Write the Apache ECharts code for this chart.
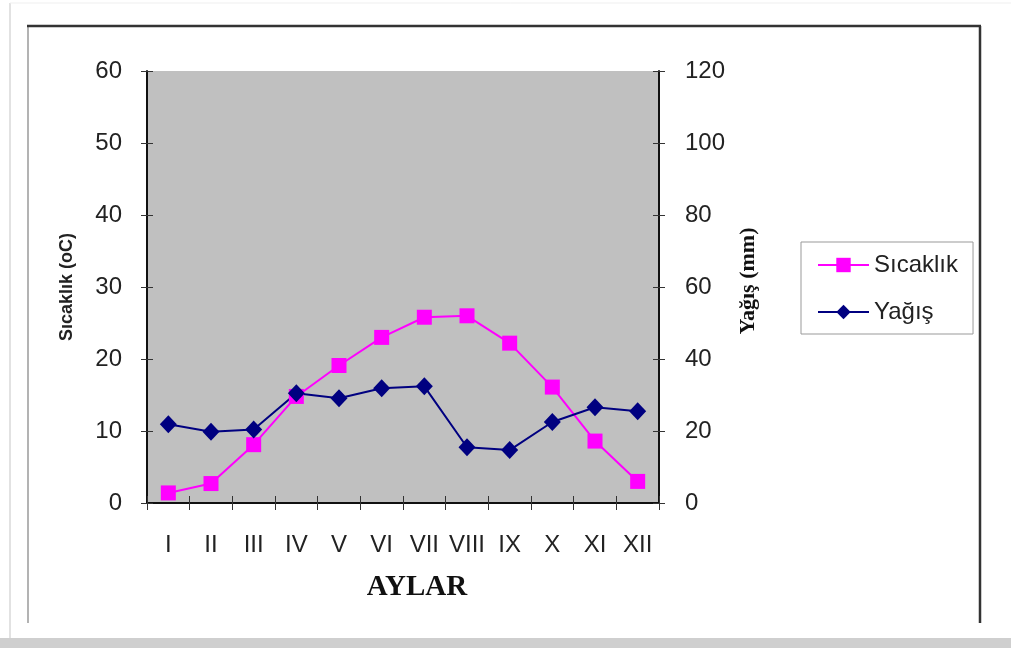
<!DOCTYPE html>
<html>
<head>
<meta charset="utf-8">
<script src="https://cdn.jsdelivr.net/npm/echarts@6/dist/echarts.min.js"></script>
<style>html,body{margin:0;padding:0;background:#fff;}#c{width:1011px;height:648px;}</style>
</head>
<body>
<div id="c"></div>
<script>
var months = ['I','II','III','IV','V','VI','VII','VIII','IX','X','XI','XII'];
var sicaklik = [1.4, 2.7, 8.1, 14.8, 19.1, 23.0, 25.8, 26.0, 22.2, 16.1, 8.6, 3.0];
var yagis = [21.9, 19.8, 20.4, 30.5, 29.1, 31.9, 32.4, 15.5, 14.7, 22.5, 26.6, 25.5];
var leftTicks = [0, 60, 10];
var rightTicks = [0, 120, 20];

var chart = echarts.init(document.getElementById('c'));
var labelFont = {color:'#222', fontSize:24, fontFamily:'Arial, "Liberation Sans", sans-serif'};
chart.setOption({
  backgroundColor:'#fff',
  animation:false,
  grid:{left:147, right:352, top:71, bottom:145, show:true, backgroundColor:'#c0c0c0', borderWidth:0},
  legend:{
    orient:'vertical', left:801, top:242,
    padding:[11,15,10,16], itemGap:23,
    borderColor:'#999', borderWidth:1, backgroundColor:'#fff',
    itemWidth:51, itemHeight:18,
    textStyle:{color:'#222', fontSize:24, fontFamily:'Arial, "Liberation Sans", sans-serif'},
    data:['Sıcaklık','Yağış']
  },
  xAxis:[{
    type:'category', data:months, boundaryGap:true,
    axisLine:{lineStyle:{color:'#111', width:2}},
    axisTick:{show:true, length:7, lineStyle:{color:'#333'}},
    axisLabel:Object.assign({margin:30, interval:0}, labelFont),
    name:'AYLAR', nameLocation:'middle', nameGap:70,
    nameTextStyle:{fontFamily:'"Times New Roman","Liberation Serif",serif', fontWeight:'bold', fontSize:29, color:'#111', padding:[0,0,0,28]}
  },{
    type:'category', data:months, boundaryGap:true, position:'bottom',
    axisLine:{show:false}, axisLabel:{show:false},
    axisTick:{show:true, inside:true, length:7, lineStyle:{color:'#333'}}
  }],
  yAxis:[{
    type:'value', min:leftTicks[0], max:leftTicks[1], interval:leftTicks[2], position:'left',
    splitLine:{show:false},
    axisLine:{show:true, lineStyle:{color:'#111', width:2}},
    axisTick:{show:true, length:6, lineStyle:{color:'#333'}},
    axisLabel:Object.assign({margin:25}, labelFont),
    name:'Sıcaklık (oC)', nameLocation:'middle', nameRotate:90, nameGap:71,
    nameTextStyle:{fontFamily:'Arial, "Liberation Sans", sans-serif', fontWeight:'bold', fontSize:18, color:'#222'}
  },{
    type:'value', min:rightTicks[0], max:rightTicks[1], interval:rightTicks[2], position:'right',
    splitLine:{show:false},
    axisLine:{show:true, lineStyle:{color:'#111', width:2}},
    axisTick:{show:true, length:6, lineStyle:{color:'#333'}},
    axisLabel:Object.assign({margin:26}, labelFont),
    name:'Yağış (mm)', nameLocation:'middle', nameRotate:90, nameGap:78,
    nameTextStyle:{fontFamily:'"Times New Roman","Liberation Serif",serif', fontWeight:'bold', fontSize:22, color:'#111', padding:[0,0,0,12]}
  },{
    type:'value', min:leftTicks[0], max:leftTicks[1], interval:leftTicks[2], position:'left',
    splitLine:{show:false}, axisLine:{show:false}, axisLabel:{show:false},
    axisTick:{show:true, inside:true, length:6, lineStyle:{color:'#333'}}
  },{
    type:'value', min:rightTicks[0], max:rightTicks[1], interval:rightTicks[2], position:'right',
    splitLine:{show:false}, axisLine:{show:false}, axisLabel:{show:false},
    axisTick:{show:true, inside:true, length:6, lineStyle:{color:'#333'}}
  }],
  series:[{
    name:'Sıcaklık', type:'line', yAxisIndex:0, data:sicaklik,
    symbol:'rect', symbolSize:15,
    lineStyle:{color:'#ff00ff', width:2}, itemStyle:{color:'#ff00ff'}
  },{
    name:'Yağış', type:'line', yAxisIndex:1, data:yagis,
    symbol:'diamond', symbolSize:[17,18],
    lineStyle:{color:'#000080', width:2}, itemStyle:{color:'#000080'}
  }],
  graphic:[
    {type:'rect', shape:{x:0, y:638, width:1011, height:10}, style:{fill:'#cfcfcf'}, z:-1},
    {type:'line', shape:{x1:10, y1:3, x2:10, y2:638}, style:{stroke:'#e2e2e2', lineWidth:2}},
    {type:'line', shape:{x1:10, y1:3, x2:1011, y2:3}, style:{stroke:'#efefef', lineWidth:1}},
    {type:'line', shape:{x1:28, y1:26, x2:28, y2:623}, style:{stroke:'#9a9a9a', lineWidth:1.5}},
    {type:'line', shape:{x1:27, y1:26, x2:981, y2:26}, style:{stroke:'#333', lineWidth:2.5}},
    {type:'line', shape:{x1:980, y1:26, x2:980, y2:623}, style:{stroke:'#333', lineWidth:2.5}}
  ]
});
</script>
</body>
</html>
